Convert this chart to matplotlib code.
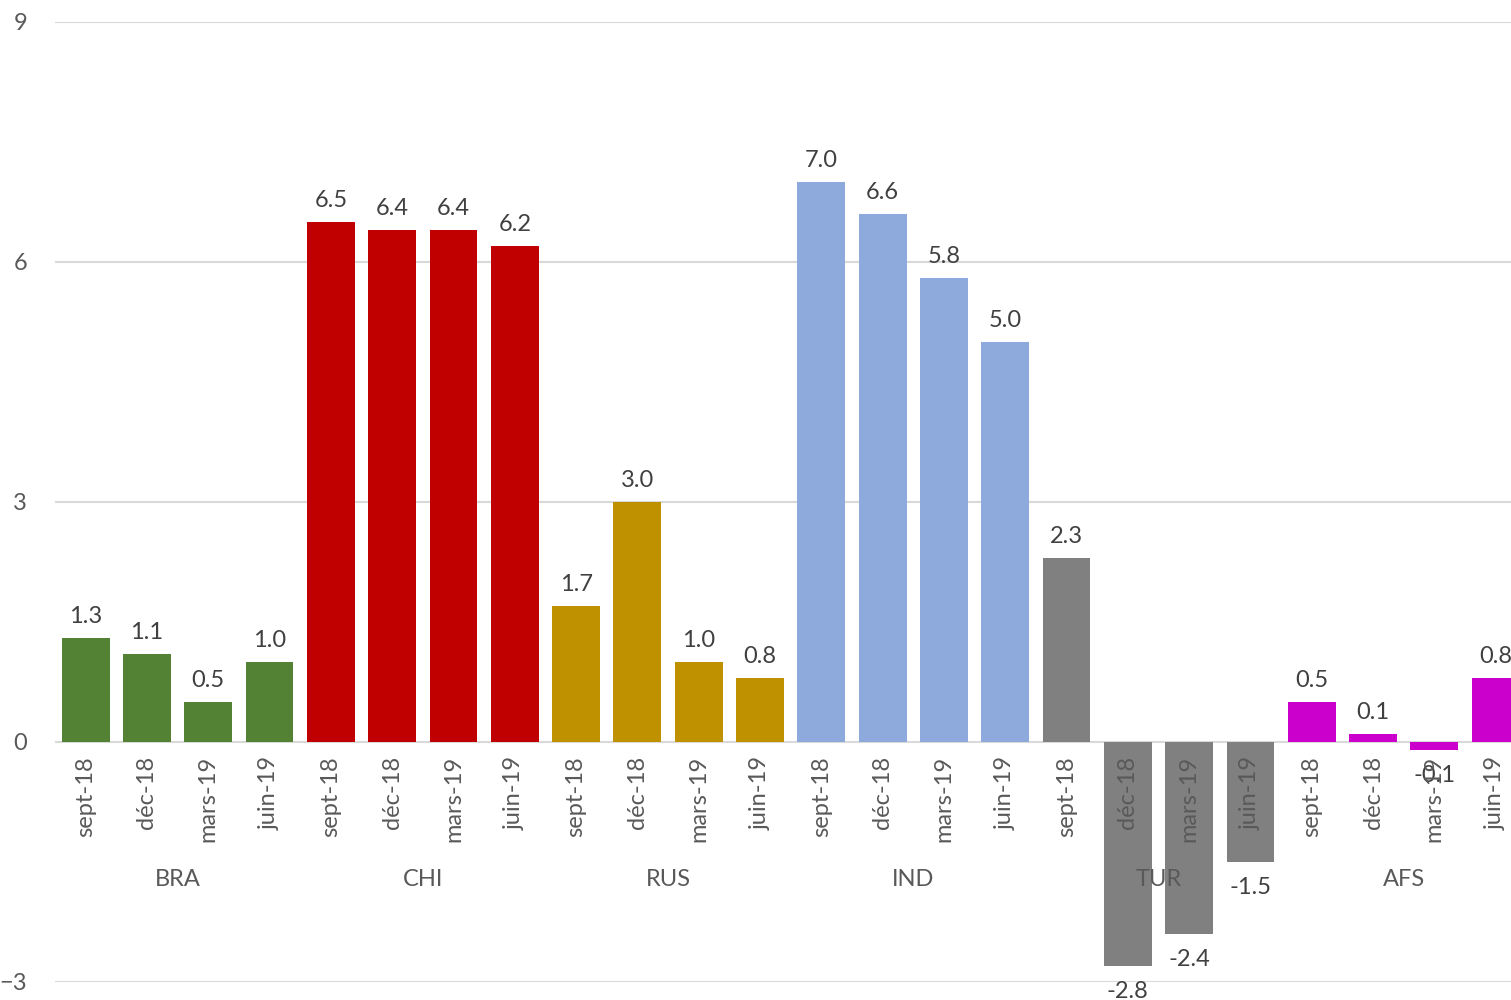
import numpy as np
import matplotlib.pyplot as plt

plt.rcParams['font.family'] = ['Lato', 'DejaVu Sans']

# data
countries = ["BRA", "CHI", "RUS", "IND", "TUR", "AFS"]
quarters = ["sept-18", "déc-18", "mars-19", "juin-19"]
bra = [1.3, 1.1, 0.5, 1.0]
chi = [6.5, 6.4, 6.4, 6.2]
rus = [1.7, 3.0, 1.0, 0.8]
ind = [7.0, 6.6, 5.8, 5.0]
tur = [2.3, -2.8, -2.4, -1.5]
afs = [0.5, 0.1, -0.1, 0.8]
colors = ["#548235", "#C00000", "#BF9000", "#8EA9DB", "#808080", "#CC00CC"]

series = [bra, chi, rus, ind, tur, afs]
txt = "#595959"
fs = 17

fig = plt.figure(figsize=(15.11, 10), dpi=100)
ax = fig.add_axes([0.0364, 0.018, 0.9636, 0.96])

pos = 0
for k, vals in enumerate(series):
    x = np.arange(pos, pos + len(vals))
    ax.bar(x, vals, width=0.78, color=colors[k], zorder=2)
    for xi, v in zip(x, vals):
        if v >= 0:
            ax.annotate(f"{v:.1f}", (xi, v), xytext=(0, 11), textcoords="offset pixels",
                        ha="center", va="bottom", fontsize=fs, color="#404040", zorder=4)
        else:
            ax.annotate(f"{v:.1f}", (xi, v), xytext=(0, -15), textcoords="offset pixels",
                        ha="center", va="top", fontsize=fs, color="#404040", zorder=4,
                        annotation_clip=False)
    for xi, q in zip(x, quarters):
        ax.annotate(q, (xi, 0), xytext=(0, -14), textcoords="offset pixels",
                    ha="center", va="top", rotation=90, fontsize=fs, color=txt, zorder=4)
    ax.annotate(countries[k], (x.mean(), 0), xytext=(0, -137), textcoords="offset pixels",
                ha="center", va="center", fontsize=fs, color=txt, zorder=4)
    pos += len(vals)

ax.set_xlim(-0.5, 23.25)
ax.set_ylim(-3, 9)
ax.set_yticks([-3, 0, 3, 6, 9])
ax.set_xticks([])
ax.yaxis.grid(True, color="#D9D9D9", linewidth=1.5, zorder=0)
ax.tick_params(axis="y", length=0, pad=20, labelsize=fs, labelcolor=txt)
for s in ax.spines.values():
    s.set_visible(False)

fig.savefig("out.png", dpi=100)
